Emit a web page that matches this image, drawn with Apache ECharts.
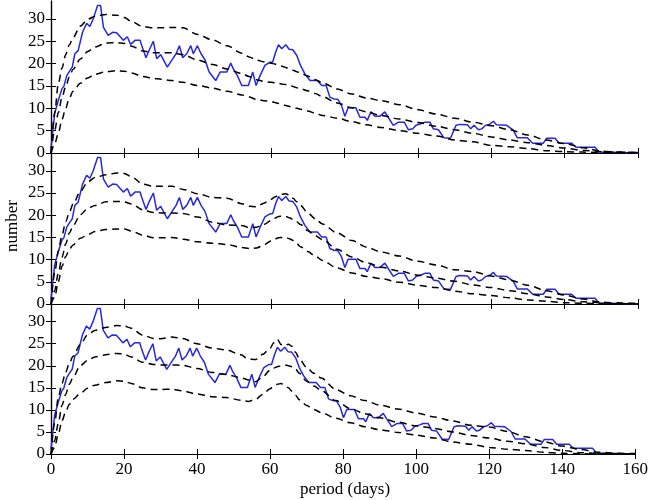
<!DOCTYPE html>
<html><head><meta charset="utf-8">
<script src="https://cdn.jsdelivr.net/npm/echarts@6/dist/echarts.min.js"></script>
<style>html,body{margin:0;padding:0;background:#fff}#c{width:651px;height:500px}</style>
</head><body><div id="c"></div>
<script>
const xTickValues = [0,20,40,60,80,100,120,140,160];
const yTickValues = [0,5,10,15,20,25,30];

const obsDays = [0,0.5,1,1.5,2,3,3.5,4.3,5.2,5.8,6.5,7.4,8.6,9.7,10.6,11.5,12.7,13.5,14.3,15.6,16.8,17.9,19.7,20.8,21.7,22.9,24.3,24.7,25.9,26.8,27.9,28.8,29.9,31.7,33.2,34.1,35,35.9,37,38.1,38.8,39.9,40.9,42,43.1,44.9,46.1,47.9,49,49.7,50.8,52,53.8,55,55.9,57,58.3,59.7,60.4,61.2,62,62.9,64,64.9,65.9,67,68,69.2,70.6,72.6,73.8,75,76,77.1,78.2,79.2,80.1,81,83.1,84.2,85.6,86.2,87.2,88.3,89.6,91,91.9,93.3,94.7,96.3,97.4,98.6,99.5,101,101.9,103.3,104.2,105.6,107.1,108.9,110.4,111.4,113.5,114.4,115.3,116.5,117.4,118.5,119.5,120.6,121.4,124.2,126,127.1,129.8,131.3,134.2,135.1,137.4,138.5,141.9,143.1,148.3,149.4,155,160];
const obsCount = [1,5,8.8,8.8,11.8,14.4,14.9,17.3,18.5,19.2,22.2,22.9,27,29,28.3,30,33,33,28.1,26.3,27,26.9,25.2,26,24.3,25.2,25.2,24.1,21.3,23.1,25,21.1,22,19.2,21.1,22.2,24,21.3,22.2,24,22.2,24,22.2,20.8,18.1,16.2,18.1,18.1,20.1,18.8,17.3,15.1,15.1,18.1,15.1,17.3,19.6,20.3,20.3,22.5,24.2,23.3,24.2,23.2,23.1,21.8,19.6,17.7,16.2,16.2,15.1,15.1,12.5,12.1,12,10.6,8.2,10.1,10.1,8,8,7.3,9.2,8.2,8.2,9.2,8,6.2,6.9,6.9,5.2,5.4,6.2,6.6,6.9,6.9,5.4,5.2,3.4,3.3,6.2,6.4,6.3,5.4,6.2,5.2,5.4,6.2,6.4,7.1,6.3,6.2,5.1,3.4,3.4,2.2,2.2,3.3,3.3,2.2,2.2,1.3,1.3,0.2,0.1,0];

const modelDays = [0,1,2,3,4,5,6,8,10,12,15,18,20,22,25,28,30,33,36,40,44,48,52,54,56,58,60,61,62,63,64,65,66,67,68,70,72,74,78,82,86,90,95,100,105,110,115,120,125,130,135,140,145,150,155,160];

const p1Upper = [0,9,15.5,19,22,24.2,25.8,28.4,29.9,30.6,31,30.8,30.3,29.4,28.3,28,28,28.1,28,26.5,25.3,24,22.3,21.5,20.8,20.4,20.1,19.9,19.6,19.4,19.1,18.8,18.5,18.2,17.9,17.2,16.4,15.7,14.3,13.2,12.3,11.7,10.8,9.7,8.7,7.8,6.9,6.1,5.2,4,2.9,2.1,1.2,0.4,0.2,0.1];
const p1Mid = [0,5,9,12.5,14.8,17,18.7,21,22.7,23.7,24.6,24.7,24.5,23.9,22.8,22.4,22.4,22.4,22,20.8,19.8,18.8,17.8,17.1,16.4,16,15.8,15.7,15.6,15.4,15.3,15.1,14.9,14.6,14.4,13.9,13.3,12.6,11.2,10.1,9.2,8.4,7.6,6.8,6,5.2,4.4,3.6,2.9,2.3,1.7,1.1,0.6,0.3,0.15,0.1];
const p1Lower = [0,2,4.4,7.5,10,12.3,13.8,15.6,16.8,17.6,18.2,18.4,18.3,17.9,17.1,16.7,16.5,16.2,15.8,15.1,14.5,13.8,13,12.5,12,11.7,11.5,11.3,11.1,10.9,10.6,10.4,10.1,10,9.8,9.4,8.9,8.4,7.8,7,6.3,5.7,5,4.4,3.8,2.9,2.5,1.7,1.4,1,0.5,0.3,0.2,0.1,0.05,0];

const p2Upper = [0,7,12,15.5,18.5,20.6,22.5,25.3,27.5,28.5,29.1,29.5,29.4,28.6,27,26.5,26.5,26.5,25.8,24.8,24,23.8,22.6,22,21.9,22.7,23.6,24.1,24.5,24.7,24.8,24.5,23.8,23,22.2,20.5,19.2,18,16,14.3,12.8,11.7,10.8,9.6,8.8,7.7,7.3,6.3,5.4,4.2,3,2,1.1,0.4,0.2,0.1];
const p2Mid = [0,3,7,10.5,13.5,16,17.6,20.1,21.5,22.2,23,23.1,23,22.5,21.2,20.6,20.5,20.5,20.4,19.6,18.4,17.8,17.7,17.2,17.3,17.9,18.8,19.3,19.7,19.8,19.7,19.4,19,18.5,17.9,16.5,15.4,14.5,12.3,10.6,9.3,8.3,7.4,6.5,5.8,5.1,4.3,3.7,3,2.3,1.6,1,0.5,0.3,0.15,0.1];
const p2Lower = [0,1.5,5,8.5,10.7,12.3,13.3,14.8,15.6,16.3,16.8,16.9,16.9,16.4,15.5,14.9,14.9,15,14.6,14,13.7,13.4,12.7,12.5,12.6,13.3,14.2,14.6,14.9,15,15,14.7,14.3,13.6,12.9,11.8,10.8,9.8,8.1,7,6.2,5.7,4.9,4.2,3.7,2.9,2.3,1.9,1.4,0.9,0.6,0.3,0.15,0.1,0.05,0];

const p3Upper = [0,7,12.8,16,18.5,20.5,22.1,24.8,27,28,28.7,29.1,29,28.5,27,26.2,26.1,26.5,26.2,25,24,23.6,22.5,21.5,21.4,22.6,24,25.2,26,24.8,24.5,24.9,24.4,23,21.6,19.6,18.3,17.2,14.6,13.2,12.1,11.1,10.2,9.3,8.4,7.5,6.5,6.1,5.1,3.9,2.8,1.8,1,0.4,0.15,0.1];
const p3Mid = [0,3,7,11,13.5,15.8,17.3,20,21.2,22,22.5,22.8,22.6,22,20.8,20.3,20.2,20.2,20.1,19.4,18.5,18,17.3,16.8,16.4,17.5,19,19.5,19.8,20,20.2,20,19.8,19.2,18.3,16.5,15.4,14.4,12.1,10.3,9.1,8.2,7.2,6.4,5.8,5,4.2,3.6,2.9,2.3,1.5,0.8,0.3,0.1,0.05,0];
const p3Lower = [0,1.5,4.5,7.5,9.5,11.2,12.4,13.7,14.9,15.6,16.2,16.6,16.5,16,15,14.6,14.6,14.7,14.3,13.6,13,12.8,12.2,11.9,12.4,13.5,14.8,15.4,15.8,16,15.6,15,14.2,13.3,12.3,11,10.1,9.4,8.1,7.1,6.2,5.5,4.9,4.3,3.6,2.7,2.2,1.5,1.1,0.8,0.4,0.15,0.05,0,0,0];

const xLabel = 'period (days)';
const yLabel = 'number';

const panels = [[p1Upper,p1Mid,p1Lower],[p2Upper,p2Mid,p2Lower],[p3Upper,p3Mid,p3Lower]];
const gridBoxes = [{top:1,height:152},{top:153,height:151},{top:304,height:150}];

const FONT = 'Liberation Serif';
const axisLine = {show:true, lineStyle:{color:'#000', width:1.2}};
const grid = [], xAxis = [], yAxis = [], series = [];

gridBoxes.forEach((g, i) => {
  grid.push({left:51, width:587, top:g.top, height:g.height, containLabel:false});
  ['bottom','top'].forEach(pos => {
    xAxis.push({
      type:'value', gridIndex:i, position:pos, min:0, max:160, interval:20,
      axisLine, splitLine:{show:false},
      axisTick:{show:true, inside:true, length:5, lineStyle:{color:'#000', width:1}, customValues:xTickValues},
      axisLabel:{show: pos==='bottom' && i===2, customValues:xTickValues, color:'#000', fontFamily:FONT, fontSize:17, margin:7}
    });
  });
  ['left','right'].forEach(pos => {
    yAxis.push({
      type:'value', gridIndex:i, position:pos, min:0, max:34,
      axisLine, splitLine:{show:false},
      axisTick:{show:true, inside:true, length:5, lineStyle:{color:'#000', width:1}, customValues:yTickValues},
      axisLabel:{show: pos==='left', customValues:yTickValues, color:'#000', fontFamily:FONT, fontSize:17, margin:6}
    });
  });
  series.push({
    type:'line', xAxisIndex:2*i, yAxisIndex:2*i, showSymbol:false, z:2,
    data: obsDays.map((d,k)=>[d, obsCount[k]]),
    lineStyle:{color:'#2828dc', width:1.5}
  });
  panels[i].forEach(arr => {
    series.push({
      type:'line', xAxisIndex:2*i, yAxisIndex:2*i, showSymbol:false, z:3,
      smooth:0.3, smoothMonotone:'x',
      data: modelDays.map((d,k)=>[d, arr[k]]),
      lineStyle:{color:'#000', width:1.5, type:[7,5]}
    });
  });
});

const chart = echarts.init(document.getElementById('c'), null, {renderer:'canvas'});
chart.setOption({
  animation:false,
  backgroundColor:'#fff',
  grid, xAxis, yAxis, series,
  graphic:[
    {type:'text', x:345, y:490, style:{text:xLabel, x:0, y:0, fill:'#000', font:'17px "Liberation Serif"', textAlign:'center', textVerticalAlign:'middle'}},
    {type:'text', x:13, y:226, rotation:Math.PI/2, style:{text:yLabel, x:0, y:0, fill:'#000', font:'17px "Liberation Serif"', textAlign:'center', textVerticalAlign:'middle'}}
  ]
});
</script>
</body></html>
